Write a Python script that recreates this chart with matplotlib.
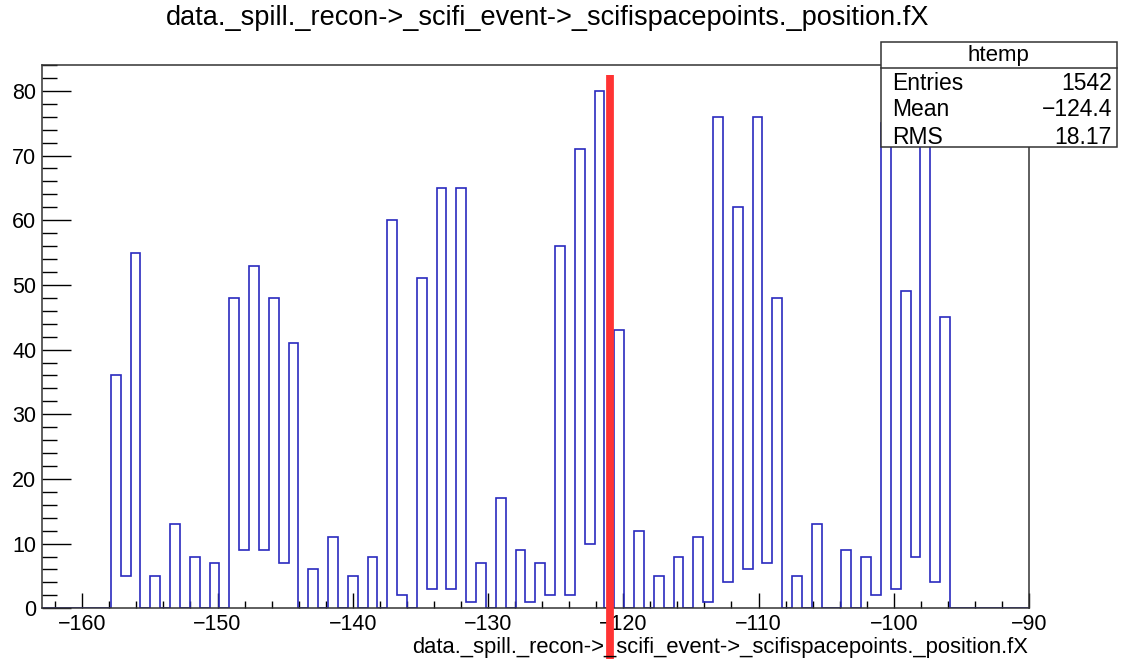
import numpy as np
import matplotlib
matplotlib.use("Agg")
import matplotlib.pyplot as plt
from matplotlib.patches import Rectangle
from matplotlib.ticker import MultipleLocator

plt.rcParams['font.family'] = ['Liberation Sans', 'DejaVu Sans']

# histogram: 100 bins from -163 to -90
x_min, x_max, n_bins = -163.0, -90.0, 100
counts = ([0] * 7 +
          [36, 5, 55, 0, 5, 0, 13, 0, 8, 0, 7, 0, 48, 9, 53, 9, 48, 7, 41, 0, 6] +
          [0, 11, 0, 5, 0, 8, 0, 60, 2, 0, 51, 3, 65, 3, 65, 1, 7, 0, 17, 0, 9, 1, 7] +
          [2, 56, 2, 71, 10, 80, 0, 43, 0, 12, 0, 5, 0, 8, 0, 11, 1, 76, 4, 62, 6, 76] +
          [7, 48, 0, 5, 0, 13, 0, 0, 9, 0, 8, 2, 75, 3, 49, 8, 76, 4, 45] +
          [0] * 8)
edges = np.linspace(x_min, x_max, n_bins + 1)

marker_x = -121.0
marker_y = (-9.0, 82.45)

title = "data._spill._recon->_scifi_event->_scifispacepoints._position.fX"
stats_name = "htemp"
stats_rows = [("Entries", "1542"), ("Mean", "\u2212124.4"), ("RMS", "18.17")]

W, H = 1122, 659
fig = plt.figure(figsize=(W / 100, H / 100), dpi=100)
ax = fig.add_axes([41.7 / W, 1 - 608.3 / H, (1029 - 41.7) / W, (608.3 - 65) / H])

ax.stairs(counts, edges, color='#2a2abf', lw=1.2, baseline=0, zorder=2)
ax.plot([marker_x, marker_x], marker_y, color='#ff3333', lw=5.6, clip_on=False,
        solid_capstyle='butt', zorder=3)

ax.set_xlim(x_min, x_max)
ax.set_ylim(0, 1.05 * max(counts))
ax.xaxis.set_major_locator(MultipleLocator(10))
ax.xaxis.set_minor_locator(MultipleLocator(2))
ax.yaxis.set_major_locator(MultipleLocator(10))
ax.yaxis.set_minor_locator(MultipleLocator(2))
ax.tick_params(axis='x', which='major', direction='in', length=10.8, width=1, pad=4,
               labelsize=15.5, top=False)
ax.tick_params(axis='x', which='minor', direction='in', length=4.8, width=1, top=False)
ax.tick_params(axis='y', which='major', direction='in', length=21, width=1, pad=4,
               labelsize=15.5, right=False)
ax.tick_params(axis='y', which='minor', direction='in', length=10.8, width=1, right=False)
for s in ax.spines.values():
    s.set_linewidth(1.1)
    s.set_color('#333333')

def px(x):
    return x / W

def py(y):
    return 1 - y / H

fig.text(px(548), py(18), title, ha='center', va='center', fontsize=19.5)
fig.text(px(1028), py(648), title, ha='right', va='center', fontsize=15.8)

# stats box
bl, br, bt, bb, bh = 880.7, 1117, 41.7, 147.3, 68.3
fig.patches.append(Rectangle((px(bl), py(bb)), px(br - bl), py(bt) - py(bb),
                             transform=fig.transFigure, facecolor='white',
                             edgecolor='#333333', lw=1.1, zorder=5))
fig.add_artist(plt.Line2D([px(bl), px(br)], [py(bh), py(bh)], color='#333333',
                          lw=1.1, transform=fig.transFigure, zorder=6))
fig.text(px((bl + br) / 2), py(55), stats_name, ha='center', va='center', fontsize=16, zorder=7)
for i, (k, v) in enumerate(stats_rows):
    y = 83 + i * 27
    fig.text(px(892), py(y), k, ha='left', va='center', fontsize=16.5, zorder=7)
    fig.text(px(1112), py(y), v, ha='right', va='center', fontsize=16.5, zorder=7)

fig.savefig("out.png", dpi=100)
